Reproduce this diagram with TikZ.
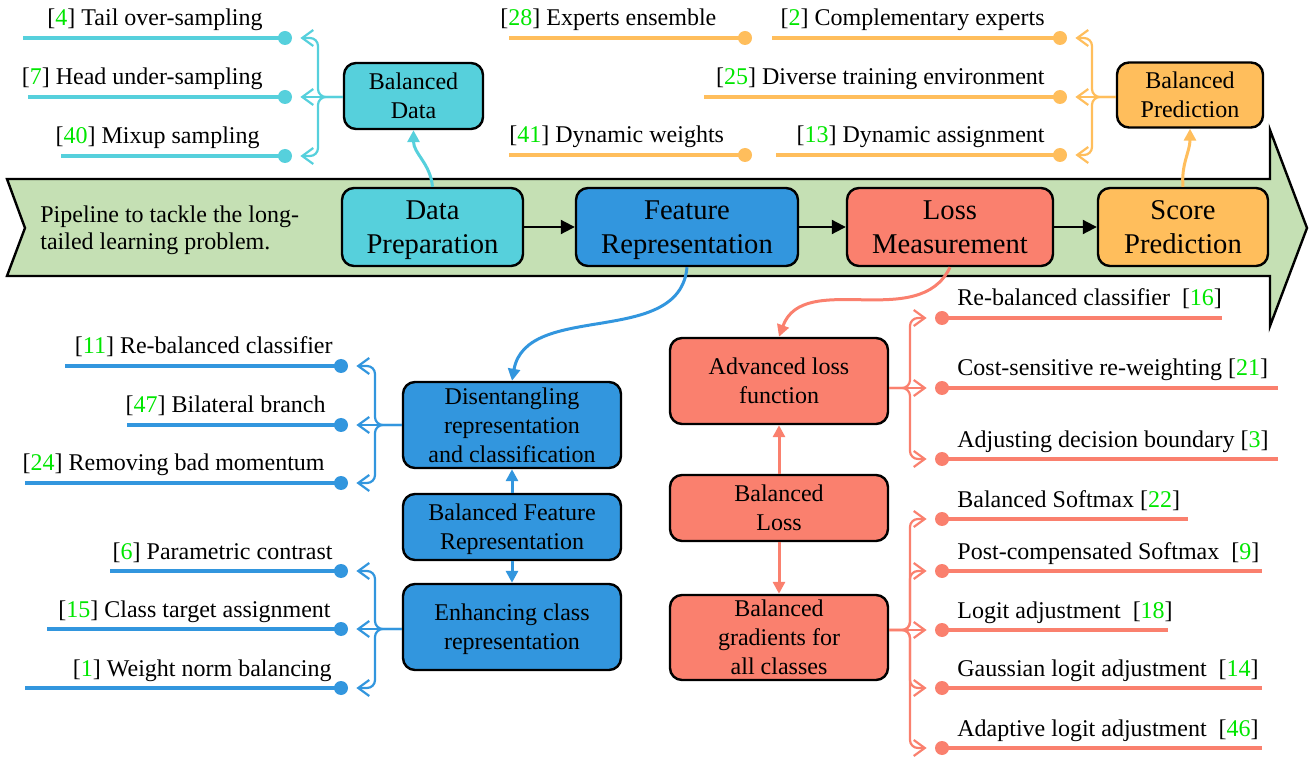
\documentclass[tikz,border=0pt]{standalone}
\usepackage{fontspec}
\IfFontExistsTF{LiberationSerif-Regular.ttf}{%
\setmainfont{LiberationSerif}[Extension=.ttf,UprightFont=*-Regular,BoldFont=*-Bold,ItalicFont=*-Italic,BoldItalicFont=*-BoldItalic]}{%
\setmainfont{Liberation Serif}}
\usetikzlibrary{arrows.meta}
\definecolor{datac}{RGB}{86,208,220}
\definecolor{featc}{RGB}{50,150,222}
\definecolor{lossc}{RGB}{250,128,110}
\definecolor{predc}{RGB}{255,190,92}
\definecolor{pipec}{RGB}{197,224,180}
\definecolor{citec}{RGB}{0,230,0}
\newcommand{\refn}[1]{[\textcolor{citec}{#1}]}
\tikzset{
 box/.style={draw=black, line width=1.2pt, rounded corners=6pt, align=center, inner sep=0pt, text depth=0pt, font=\fontsize{12}{14.5}\selectfont},
 bigbox/.style={box, font=\fontsize{14.3}{17}\selectfont},
 lbl/.style={inner sep=0pt, font=\fontsize{12}{14.5}\selectfont},
 dotn/.style={circle, fill=#1, inner sep=0pt, minimum size=7pt},
 itemline/.style={line width=1.6pt, draw=#1},
 brace/.style={line width=1.1pt, draw=#1, rounded corners=4pt, shorten >=4pt, -{Straight Barb[length=5.5pt,width=8pt]}},
 link/.style={line width=1.5pt, draw=#1, -{Triangle[length=6pt,width=6pt]}},
 flow/.style={line width=1pt, draw=black, -{Triangle[length=7pt,width=7pt]}},
}
\begin{document}
\begin{tikzpicture}[x=0.5pt,y=0.5pt]
\useasboundingbox (0,0) rectangle (1313,-759);
% pipeline arrow
\draw[fill=pipec, line width=1.2pt, line join=miter] (7,-179) -- (1270,-179) -- (1270,-130) -- (1307,-228) -- (1270,-326) -- (1270,-276) -- (7,-276) -- (25,-228) -- cycle;
\node[lbl, anchor=west, align=left, font=\fontsize{12}{13.5}\selectfont] (pipe) at (40,-230) {Pipeline to tackle the long-\\tailed learning problem.};
\node[bigbox, fill=datac, minimum width=90.5pt, minimum height=39pt] (prep) at (432.5,-227) {Data\\Preparation};
\node[bigbox, fill=featc, minimum width=111pt, minimum height=39pt] (feat) at (687,-227) {Feature\\Representation};
\node[bigbox, fill=lossc, minimum width=103pt, minimum height=39pt] (loss) at (950,-227) {Loss\\Measurement};
\node[bigbox, fill=predc, minimum width=85pt, minimum height=39pt] (score) at (1183,-227) {Score\\Prediction};
\draw[flow] (prep) -- (feat);
\draw[flow] (feat) -- (loss);
\draw[flow] (loss) -- (score);

% balanced data
\node[box, fill=datac, minimum width=69.5pt, minimum height=33pt] (bdata) at (413.5,-96) {Balanced\\Data};
\draw[link=datac] (prep.north) to[out=95,in=-90] (bdata.south);
\node[lbl, anchor=base east] (t4) at (263,-26) {\refn{4} Tail over-sampling};
\node[lbl, anchor=base east] (t7) at (263,-85) {\refn{7} Head under-sampling};
\node[lbl, anchor=base east] (t40) at (260,-144) {\refn{40} Mixup sampling};
\node[dotn=datac] (d1) at (285,-38) {};
\node[dotn=datac] (d2) at (285,-97) {};
\node[dotn=datac] (d3) at (285,-156) {};
\draw[itemline=datac] (d1.center) -- (23,-38);
\draw[itemline=datac] (d2.center) -- (28,-97);
\draw[itemline=datac] (d3.center) -- (61,-156);
\coordinate (jd) at (318,-97);
\draw[brace=datac] (bdata.west |- jd) -- (jd) |- (d1);
\draw[brace=datac] (bdata.west |- jd) -- (d2);
\draw[brace=datac] (bdata.west |- jd) -- (jd) |- (d3);

% balanced prediction
\node[box, fill=predc, minimum width=73pt, minimum height=32.5pt] (bpred) at (1190,-95) {Balanced\\Prediction};
\draw[link=predc] (score.north) to[out=95,in=-90] (bpred.south);
\node[lbl, anchor=base west] (t28) at (500,-26) {\refn{28} Experts ensemble};
\node[lbl, anchor=base west] (t41) at (509,-143) {\refn{41} Dynamic weights};
\node[lbl, anchor=base east] (t2) at (1045,-26) {\refn{2} Complementary experts};
\node[lbl, anchor=base east] (t25) at (1045,-85) {\refn{25} Diverse training environment};
\node[lbl, anchor=base east] (t13) at (1045,-143) {\refn{13} Dynamic assignment};
\node[dotn=predc] (e1) at (745,-38) {};
\node[dotn=predc] (e2) at (745,-155) {};
\node[dotn=predc] (p1) at (1060,-38) {};
\node[dotn=predc] (p2) at (1060,-97) {};
\node[dotn=predc] (p3) at (1060,-155) {};
\draw[itemline=predc] (e1.center) -- (509,-38);
\draw[itemline=predc] (e2.center) -- (509,-155);
\draw[itemline=predc] (p1.center) -- (772,-38);
\draw[itemline=predc] (p2.center) -- (704,-97);
\draw[itemline=predc] (p3.center) -- (776,-155);
\coordinate (jp) at (1092,-97);
\draw[brace=predc] (bpred.west |- jp) -- (jp) |- (p1);
\draw[brace=predc] (bpred.west |- jp) -- (p2);
\draw[brace=predc] (bpred.west |- jp) -- (jp) |- (p3);

% balanced feature representation
\node[box, fill=featc, minimum width=109pt, minimum height=43pt] (dis) at (512,-425) {Disentangling\\representation\\and classification};
\node[box, fill=featc, minimum width=109pt, minimum height=33pt] (bfr) at (512,-527) {Balanced Feature\\Representation};
\node[box, fill=featc, minimum width=109pt, minimum height=43pt] (enh) at (512,-627) {Enhancing class\\representation};
\draw[link=featc] (feat.south) to[out=-95,in=80] (dis.north);
\draw[link=featc] (bfr) -- (dis);
\draw[link=featc] (bfr) -- (enh);
\node[lbl, anchor=base east] (t11) at (333,-354) {\refn{11} Re-balanced classifier};
\node[lbl, anchor=base east] (t47) at (326,-413) {\refn{47} Bilateral branch};
\node[lbl, anchor=base east] (t24) at (325,-471) {\refn{24} Removing bad momentum};
\node[lbl, anchor=base east] (t6) at (333,-559) {\refn{6} Parametric contrast};
\node[lbl, anchor=base east] (t15) at (331,-617) {\refn{15} Class target assignment};
\node[lbl, anchor=base east] (t1) at (332,-676) {\refn{1} Weight norm balancing};
\node[dotn=featc] (b1) at (341,-366) {};
\node[dotn=featc] (b2) at (341,-425) {};
\node[dotn=featc] (b3) at (341,-483) {};
\node[dotn=featc] (b4) at (341,-571) {};
\node[dotn=featc] (b5) at (341,-629) {};
\node[dotn=featc] (b6) at (341,-688) {};
\draw[itemline=featc] (b1.center) -- (65,-366);
\draw[itemline=featc] (b2.center) -- (127,-425);
\draw[itemline=featc] (b3.center) -- (25,-483);
\draw[itemline=featc] (b4.center) -- (110,-571);
\draw[itemline=featc] (b5.center) -- (47,-629);
\draw[itemline=featc] (b6.center) -- (25,-688);
\coordinate (jb1) at (375,-425);
\coordinate (jb2) at (375,-629);
\draw[brace=featc] (dis.west |- jb1) -- (jb1) |- (b1);
\draw[brace=featc] (dis.west |- jb1) -- (b2);
\draw[brace=featc] (dis.west |- jb1) -- (jb1) |- (b3);
\draw[brace=featc] (enh.west |- jb2) -- (jb2) |- (b4);
\draw[brace=featc] (enh.west |- jb2) -- (b5);
\draw[brace=featc] (enh.west |- jb2) -- (jb2) |- (b6);

% balanced loss
\node[box, fill=lossc, minimum width=109pt, minimum height=43pt] (adv) at (779,-381) {Advanced loss\\function};
\node[box, fill=lossc, minimum width=109pt, minimum height=33pt] (bloss) at (779,-508) {Balanced\\Loss};
\node[box, fill=lossc, minimum width=109pt, minimum height=42.5pt] (grad) at (779,-637.5) {Balanced\\gradients for\\all classes};
\draw[link=lossc] (loss.south) to[out=-115,in=70] (adv.north);
\draw[link=lossc] (bloss) -- (adv);
\draw[link=lossc] (bloss) -- (grad);
\node[lbl, anchor=base west] (t16) at (957,-306) {Re-balanced classifier\ \ \refn{16}};
\node[lbl, anchor=base west] (t21) at (957,-376) {Cost-sensitive re-weighting \refn{21}};
\node[lbl, anchor=base west] (t3) at (957,-447) {Adjusting decision boundary \refn{3}};
\node[lbl, anchor=base west] (t22) at (957,-507) {Balanced Softmax \refn{22}};
\node[lbl, anchor=base west] (t9) at (957,-559) {Post-compensated Softmax\ \ \refn{9}};
\node[lbl, anchor=base west] (t18) at (957,-618) {Logit adjustment\ \ \refn{18}};
\node[lbl, anchor=base west] (t14) at (957,-676) {Gaussian logit adjustment\ \ \refn{14}};
\node[lbl, anchor=base west] (t46) at (957,-736) {Adaptive logit adjustment\ \ \refn{46}};
\node[dotn=lossc] (s1) at (942,-318) {};
\node[dotn=lossc] (s2) at (942,-388) {};
\node[dotn=lossc] (s3) at (942,-459) {};
\node[dotn=lossc] (s4) at (942,-519) {};
\node[dotn=lossc] (s5) at (942,-571) {};
\node[dotn=lossc] (s6) at (942,-630) {};
\node[dotn=lossc] (s7) at (942,-688) {};
\node[dotn=lossc] (s8) at (942,-748) {};
\draw[itemline=lossc] (s1.center) -- (1222,-318);
\draw[itemline=lossc] (s2.center) -- (1278,-388);
\draw[itemline=lossc] (s3.center) -- (1278,-459);
\draw[itemline=lossc] (s4.center) -- (1188,-519);
\draw[itemline=lossc] (s5.center) -- (1262,-571);
\draw[itemline=lossc] (s6.center) -- (1168,-630);
\draw[itemline=lossc] (s7.center) -- (1262,-688);
\draw[itemline=lossc] (s8.center) -- (1262,-748);
\coordinate (js1) at (910,-388);
\coordinate (js2) at (910,-630);
\draw[brace=lossc] (adv.east |- js1) -- (js1) |- (s1);
\draw[brace=lossc] (adv.east |- js1) -- (s2);
\draw[brace=lossc] (adv.east |- js1) -- (js1) |- (s3);
\draw[brace=lossc] (grad.east |- js2) -- (js2) |- (s4);
\draw[brace=lossc] (grad.east |- js2) -- (js2) |- (s5);
\draw[brace=lossc] (grad.east |- js2) -- (s6);
\draw[brace=lossc] (grad.east |- js2) -- (js2) |- (s7);
\draw[brace=lossc] (grad.east |- js2) -- (js2) |- (s8);
\end{tikzpicture}
\end{document}
